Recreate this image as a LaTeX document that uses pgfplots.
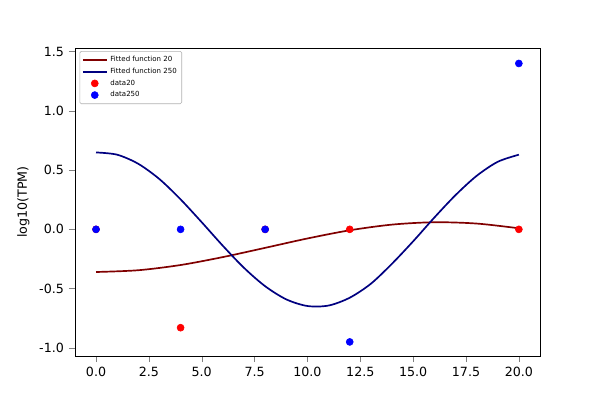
\documentclass[border=0pt]{standalone}
\usepackage{pgfplots}
\pgfplotsset{compat=1.18}
\usepackage{fontspec}
\setmainfont{DejaVu Sans}
\begin{document}
\begin{tikzpicture}
\begin{axis}[scale only axis, width=11.625cm, height=7.7cm,
 xmin=-1, xmax=21, ymin=-1.07, ymax=1.53,
 xtick={0,2.5,...,20}, ytick={-1,-0.5,0,0.5,1,1.5},
 xticklabel style={/pgf/number format/fixed,/pgf/number format/precision=1,/pgf/number format/fixed zerofill},
 yticklabel style={/pgf/number format/fixed,/pgf/number format/precision=1,/pgf/number format/fixed zerofill},
 /pgf/number format/assume math mode=true,
 tick label style={font=\small}, ylabel={log10(TPM)}, label style={font=\small},
 tick align=outside, tick pos=left, clip=false,
 legend style={font=\fontsize{5}{6}\selectfont, row sep=-1pt, inner sep=1.5pt, at={(0.01,0.99)}, anchor=north west, draw=black!30, rounded corners=1pt},
 legend cell align=left]
\addplot[color={rgb,255:red,128;green,0;blue,0}, line width=1.2pt, smooth] coordinates {(0,-0.36)(2,-0.345)(4,-0.301)(6,-0.234)(8,-0.156)(10,-0.077)(12,-0.008)(14,0.040)(16,0.060)(18,0.049)(20,0.009)};
\addlegendentry{Fitted function 20}
\addplot[color={rgb,255:red,0;green,0;blue,128}, line width=1.2pt, smooth] coordinates {(0,0.649)(1,0.630)(2,0.553)(3,0.424)(4,0.253)(5,0.060)(6,-0.139)(7,-0.325)(8,-0.480)(9,-0.591)(10,-0.647)(11,-0.643)(12,-0.577)(13,-0.459)(14,-0.290)(15,-0.101)(16,0.099)(17,0.288)(18,0.451)(19,0.570)(20,0.630)};
\addlegendentry{Fitted function 250}
\addplot[only marks, mark=*, red, mark size=2.5pt] coordinates {(0,0)(4,-0.83)(8,0)(12,0)(20,0)};
\addlegendentry{data20}
\addplot[only marks, mark=*, blue, mark size=2.5pt] coordinates {(0,0)(4,0)(8,0)(12,-0.95)(20,1.4)};
\addlegendentry{data250}
\path (rel axis cs:-0.161,-0.143) rectangle (rel axis cs:1.129,1.156);
\end{axis}
\end{tikzpicture}
\end{document}
